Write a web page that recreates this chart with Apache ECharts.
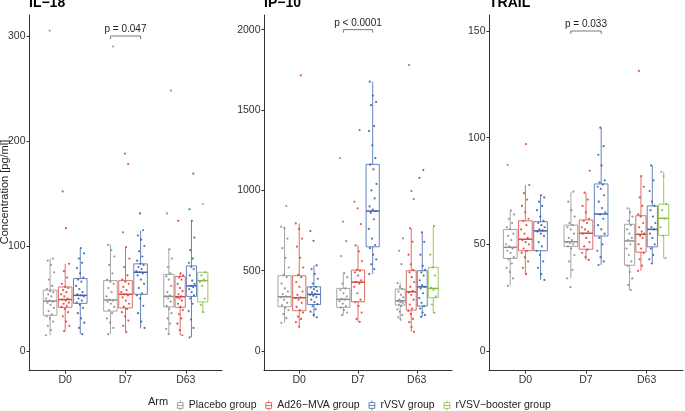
<!DOCTYPE html>
<html><head><meta charset="utf-8">
<script src="https://cdn.jsdelivr.net/npm/echarts@6/dist/echarts.min.js"></script>
<style>html,body{margin:0;padding:0;background:#fff}#c{width:685px;height:411px}</style>
</head><body><div id="c"></div>
<script>
// ---------- data ----------
const categories = ['D0', 'D7', 'D63'];
const arms = ['Placebo group', 'Ad26\u2212MVA group', 'rVSV group', 'rVSV\u2212booster group'];
const panelTitles = ['IL\u221218', 'IP\u221210', 'TRAIL'];
const pLabels = ['p = 0.047', 'p < 0.0001', 'p = 0.033'];
const bracketY = [300, 2000, 150];
const yTicksIL18 = [0, 100, 200, 300];
const yTicksIP10 = [0, 500, 1000, 1500, 2000];
const yTicksTRAIL = [0, 50, 100, 150];
const yName = 'Concentration [pg/ml]';

// box stats per category (D0, D7, D63): [lower whisker, Q1, median, Q3, upper whisker]
const il18BoxPlacebo = [[15, 34, 47.6, 58, 88], [16, 38, 48.6, 67, 101.6], [16, 42, 52, 73, 97]];
const il18BoxAd26 = [[19, 41.6, 49, 61, 83], [18.4, 41, 54, 67, 99], [15, 41.6, 51.7, 71, 74]];
const il18BoxRvsv = [[16, 45.4, 53, 69, 98], [21.6, 54, 75, 83, 114.6], [13, 52, 62, 81, 124]];
const il18BoxBoost = [null, null, [37, 46.7, 67, 75, 75]];

const ip10BoxPlacebo = [[176, 276, 338, 469, 773], [224, 272, 322, 390, 485], [195, 286, 313, 386, 423]];
const ip10BoxAd26 = [[151, 251, 332, 469, 794], [182, 307, 429, 504, 658], [120, 255, 369, 500, 764]];
const ip10BoxRvsv = [[210, 290, 353, 400, 533], [479, 649, 871, 1162, 1676], [213, 280, 400, 500, 739]];
const ip10BoxBoost = [null, null, [238, 332, 390, 521, 778]];

const trailBoxPlacebo = [[30.5, 43.4, 48.6, 57, 65.8], [34, 49, 51.2, 59, 74.7], [28.6, 40.2, 51.6, 59.4, 66.9]];
const trailBoxAd26 = [[36, 47, 52.4, 61, 77.8], [42.7, 47.7, 55.2, 61.4, 74.2], [37.6, 46.3, 54.7, 63.4, 82]];
const trailBoxRvsv = [[33.3, 47, 56.3, 60.6, 73], [40.3, 53.9, 64.2, 78.3, 104.7], [41, 48.8, 57, 68, 87]];
const trailBoxBoost = [null, null, [43.5, 54.2, 62.2, 68.8, 84]];

// individual observations per category (D0, D7, D63)
const il18PtsPlacebo = [
  [15, 20, 24, 28, 31, 33, 35, 38, 41, 44, 46, 47, 48, 50, 52, 54, 56, 57, 59, 62, 68, 75, 82, 86, 88, 305],
  [16, 22, 27, 31, 36, 39, 42, 45, 47, 48, 49, 52, 56, 60, 64, 66, 68, 74, 82, 90, 96, 101, 290],
  [16, 21, 26, 31, 36, 40, 43, 47, 50, 52, 53, 56, 62, 68, 71, 74, 80, 88, 97, 131, 248]];
const il18PtsAd26 = [
  [19, 24, 28, 33, 37, 40, 42, 43, 45, 46, 48, 49, 50, 52, 54, 56, 58, 60, 61, 64, 70, 76, 83, 117, 152],
  [18, 24, 29, 33, 37, 40, 42, 45, 48, 51, 53, 54, 56, 58, 61, 64, 66, 68, 72, 80, 88, 99, 113, 178, 188],
  [15, 20, 26, 31, 35, 39, 42, 45, 48, 50, 51, 52, 54, 57, 60, 64, 68, 70, 72, 74, 124]];
const il18PtsRvsv = [
  [16, 22, 27, 31, 36, 41, 44, 46, 48, 50, 52, 53, 54, 56, 59, 62, 66, 68, 70, 74, 79, 84, 88, 93, 98],
  [22, 28, 36, 43, 50, 53, 55, 60, 64, 68, 72, 74, 75, 76, 78, 80, 82, 83, 86, 90, 95, 100, 106, 110, 115, 131],
  [13, 22, 30, 38, 45, 50, 53, 56, 59, 61, 62, 64, 67, 72, 78, 80, 84, 88, 96, 108, 124, 135, 169]];
const il18PtsBoost = [[], [], [37, 44, 50, 62, 66, 68, 72, 75, 140]];

const ip10PtsPlacebo = [
  [176, 205, 230, 255, 270, 285, 300, 320, 335, 340, 355, 370, 390, 420, 460, 475, 520, 580, 640, 700, 765, 773, 902],
  [224, 240, 255, 270, 280, 295, 310, 320, 325, 340, 360, 380, 390, 420, 460, 485, 591, 684, 805, 1201],
  [195, 210, 225, 245, 260, 280, 290, 300, 305, 310, 313, 320, 335, 350, 370, 385, 400, 423, 541, 624, 701]];
const ip10PtsAd26 = [
  [151, 180, 200, 215, 240, 255, 275, 300, 320, 330, 335, 350, 370, 400, 430, 460, 475, 520, 580, 650, 700, 760, 794, 1715],
  [182, 200, 240, 280, 305, 320, 360, 400, 420, 430, 440, 470, 490, 500, 505, 560, 620, 658, 790, 888, 929, 1375],
  [120, 150, 180, 200, 230, 250, 265, 290, 320, 350, 365, 375, 400, 430, 460, 490, 505, 540, 600, 680, 764, 946, 996, 1780]];
const ip10PtsRvsv = [
  [210, 225, 245, 260, 280, 292, 305, 320, 335, 345, 350, 355, 365, 375, 385, 395, 400, 420, 450, 480, 510, 533, 686, 747],
  [479, 510, 540, 570, 600, 640, 660, 700, 760, 820, 860, 871, 880, 900, 950, 1000, 1040, 1130, 1160, 1200, 1280, 1370, 1400, 1530, 1550, 1590, 1676],
  [213, 225, 240, 265, 280, 300, 330, 360, 390, 400, 410, 440, 470, 490, 505, 530, 600, 680, 739, 1078, 1126]];
const ip10PtsBoost = [[], [], [238, 290, 340, 380, 395, 470, 520, 600, 778]];

const trailPtsPlacebo = [
  [30.5, 34, 37, 39, 41, 43, 44, 46, 47, 48, 49, 50, 52, 54, 55, 57, 58, 60, 62, 64, 65.8, 87.2],
  [29.9, 34, 38, 42, 45, 48, 49, 50, 50.5, 51, 52, 53, 55, 57, 58, 59, 60, 63, 66, 70, 74.7],
  [28.6, 31, 34, 37, 40, 42, 45, 48, 50, 52, 53, 55, 57, 59, 61, 63, 65, 66.9]];
const trailPtsAd26 = [
  [36, 39, 42, 44, 46, 47, 48, 50, 51, 52, 53, 55, 57, 59, 61, 62, 65, 68, 71, 74, 77.8, 97],
  [42.7, 44, 46, 47.5, 49, 51, 53, 55, 56, 57, 58, 60, 61, 62, 65, 68, 71, 74.2, 84.5],
  [37.6, 40, 43, 46, 48, 50, 53, 54, 55, 56, 58, 60, 63, 64, 68, 72, 77, 82, 131.3]];
const trailPtsRvsv = [
  [33.3, 36, 39, 42, 45, 47, 49, 51, 54, 55, 56, 56.5, 57, 58, 59, 60, 61, 63, 66, 68, 70, 72, 73],
  [40.3, 42, 44, 47, 50, 53, 55, 57, 59, 62, 64, 65, 67, 70, 73, 76, 77, 78, 79, 80, 87, 92, 96, 104.7],
  [41, 43, 45, 48, 50, 53, 55, 57, 58, 60, 63, 66, 68, 70, 75, 80, 87]];
const trailPtsBoost = [[], [], [43.5, 54, 58, 62, 66, 69, 82, 84]];

// ---------- layout / style ----------
const FONT = '"Liberation Sans", Arial, Helvetica, sans-serif';
const armColors = ['#8f8f8f', '#d9473c', '#3f64ad', '#84bb3f'];
const gridTop = 15, gridBottom = 40.3;
const gridLeft = [29, 264, 489];
const gridWidth = [193, 188, 194];
const yRange = [[-18.76, 320], [-122, 2091], [-9.24, 157.5]];

const panels = [
  { boxes: [il18BoxPlacebo, il18BoxAd26, il18BoxRvsv, il18BoxBoost], pts: [il18PtsPlacebo, il18PtsAd26, il18PtsRvsv, il18PtsBoost], ticks: yTicksIL18 },
  { boxes: [ip10BoxPlacebo, ip10BoxAd26, ip10BoxRvsv, ip10BoxBoost], pts: [ip10PtsPlacebo, ip10PtsAd26, ip10PtsRvsv, ip10PtsBoost], ticks: yTicksIP10 },
  { boxes: [trailBoxPlacebo, trailBoxAd26, trailBoxRvsv, trailBoxBoost], pts: [trailPtsPlacebo, trailPtsAd26, trailPtsRvsv, trailPtsBoost], ticks: yTicksTRAIL }
];

function armsInCat(p, c) {
  let n = 0;
  panels[p].boxes.forEach(b => { if (b[c]) n++; });
  return n;
}
function dodge(p, a, c) {
  const n = armsInCat(p, c);
  const slot = 0.75 / n;
  return { center: c + (a - (n - 1) / 2) * slot, slot: slot };
}

const grids = [], xAxes = [], yAxes = [], series = [];
panels.forEach((P, p) => {
  grids.push({ left: gridLeft[p], width: gridWidth[p], top: gridTop, bottom: gridBottom });
  xAxes.push({
    type: 'value', gridIndex: p, min: -0.6, max: 2.6,
    axisLine: { onZero: false, lineStyle: { color: '#333', width: 1 } },
    axisTick: { length: 3, lineStyle: { color: '#333' }, customValues: [0, 1, 2] },
    axisLabel: { customValues: [0, 1, 2], formatter: v => categories[Math.round(v)], color: '#333', fontSize: 10.5, fontFamily: FONT, margin: 4 },
    splitLine: { show: false }
  });
  yAxes.push({
    type: 'value', gridIndex: p, min: yRange[p][0], max: yRange[p][1],
    axisLine: { show: true, onZero: false, lineStyle: { color: '#333', width: 1 } },
    axisTick: { show: true, length: 2.5, lineStyle: { color: '#333' }, customValues: P.ticks },
    axisLabel: { customValues: P.ticks, formatter: v => String(Math.round(v)), color: '#333', fontSize: 10.5, fontFamily: FONT, margin: 3.5 },
    splitLine: { show: false }
  });
  P.boxes.forEach((B, a) => {
    const col = armColors[a];
    const boxData = [];
    B.forEach((s, c) => { if (s) boxData.push([c, s[0], s[1], s[2], s[3], s[4]]); });
    series.push({
      type: 'custom', name: arms[a], xAxisIndex: p, yAxisIndex: p, z: 2,
      itemStyle: { color: col },
      data: boxData,
      renderItem: function (params, api) {
        const c = api.value(0);
        const d = dodge(p, a, c);
        const hw = d.slot * 0.9 / 2;
        const xl = api.coord([d.center - hw, 0])[0];
        const xr = api.coord([d.center + hw, 0])[0];
        const xc = api.coord([d.center, 0])[0];
        const y = k => api.coord([d.center, api.value(k)])[1];
        const ls = { stroke: col, lineWidth: 0.8, fill: null };
        return {
          type: 'group', children: [
            { type: 'line', shape: { x1: xc, y1: y(1), x2: xc, y2: y(2) }, style: ls },
            { type: 'line', shape: { x1: xc, y1: y(4), x2: xc, y2: y(5) }, style: ls },
            { type: 'rect', shape: { x: xl, y: y(4), width: xr - xl, height: y(2) - y(4) }, style: { stroke: col, lineWidth: 0.8, fill: 'rgba(255,255,255,0)' } },
            { type: 'line', shape: { x1: xl, y1: y(3), x2: xr, y2: y(3) }, style: { stroke: col, lineWidth: 1.5 } }
          ]
        };
      }
    });
    const ptData = [];
    P.pts[a].forEach((arr, c) => arr.forEach((v, j) => ptData.push([c, v, j])));
    series.push({
      type: 'custom', name: arms[a], xAxisIndex: p, yAxisIndex: p, z: 3,
      itemStyle: { color: col },
      data: ptData,
      renderItem: function (params, api) {
        const c = api.value(0), j = api.value(2);
        const d = dodge(p, a, c);
        const frac = ((j * 0.6180339887 + a * 0.37 + c * 0.23 + p * 0.11) % 1) - 0.5;
        const pt = api.coord([d.center + frac * 2 * 0.28 * d.slot, api.value(1)]);
        return { type: 'circle', shape: { cx: pt[0], cy: pt[1], r: 1.1 }, style: { fill: col, opacity: 0.9 } };
      }
    });
  });
  // significance bracket between placebo and rVSV at D7
  series.push({
    type: 'custom', xAxisIndex: p, yAxisIndex: p, z: 4, silent: true,
    data: [[1, bracketY[p]]],
    renderItem: function (params, api) {
      const c = api.value(0);
      const d0 = dodge(p, 0, c), d2 = dodge(p, 2, c);
      const a1 = api.coord([d0.center, api.value(1)]);
      const a2 = api.coord([d2.center, api.value(1)]);
      return {
        type: 'group', children: [
          { type: 'polyline', shape: { points: [[a1[0], a1[1] + 3], [a1[0], a1[1]], [a2[0], a2[1]], [a2[0], a2[1] + 3]] }, style: { stroke: '#555', lineWidth: 0.8, fill: null } },
          { type: 'text', x: (a1[0] + a2[0]) / 2, y: a1[1] - 1.5, style: { text: pLabels[p], align: 'center', verticalAlign: 'bottom', fontSize: 10, fontFamily: FONT, fill: '#222' } }
        ]
      };
    }
  });
});

const boxIcon = 'path://M5,0L5,3M1,3L9,3L9,11L1,11ZM1,7L9,7M5,11L5,14';
const graphics = [];
panelTitles.forEach((t, p) => graphics.push({
  type: 'text', x: gridLeft[p], y: 3,
  style: { text: t, fontSize: 14, fontWeight: 'bold', fontFamily: FONT, fill: '#000', verticalAlign: 'middle', align: 'left' }
}));
graphics.push({
  type: 'text', x: 5, y: 192, rotation: Math.PI / 2,
  style: { text: yName, fontSize: 11, fontFamily: FONT, fill: '#222', align: 'center', verticalAlign: 'middle' }
});
graphics.push({
  type: 'text', x: 148, y: 402,
  style: { text: 'Arm', fontSize: 11, fontFamily: FONT, fill: '#222', align: 'left', verticalAlign: 'middle' }
});

const chart = echarts.init(document.getElementById('c'), null, { renderer: 'canvas' });
chart.setOption({
  animation: false,
  backgroundColor: '#fff',
  grid: grids, xAxis: xAxes, yAxis: yAxes, series: series,
  graphic: graphics,
  legend: {
    left: 172, top: 395, itemWidth: 7, itemHeight: 10, itemGap: 9,
    textStyle: { fontSize: 10.5, color: '#222', fontFamily: FONT },
    data: arms.map((n, i) => ({ name: n, icon: boxIcon, itemStyle: { color: 'rgba(0,0,0,0)', borderColor: armColors[i], borderWidth: 0.8 } }))
  }
});
</script></body></html>
